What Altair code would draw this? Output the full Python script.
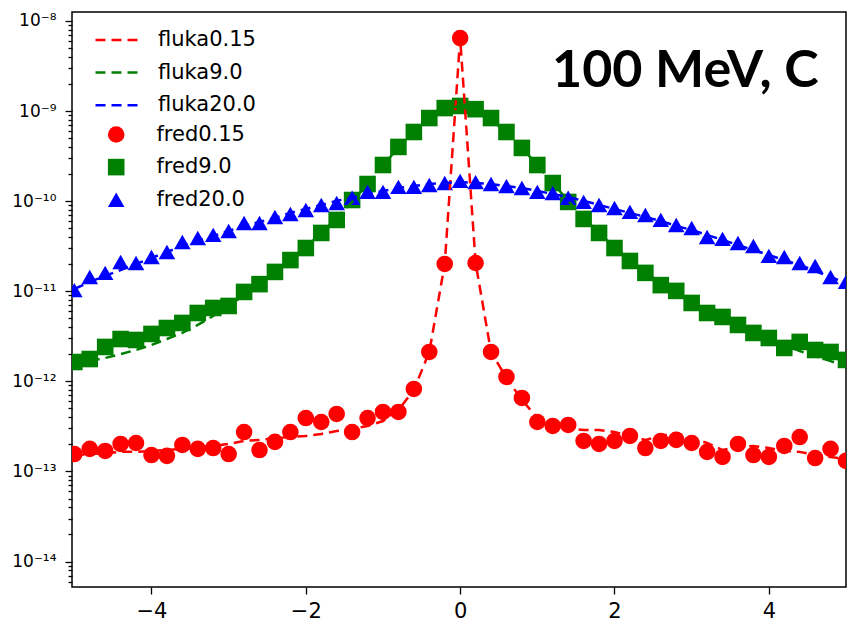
import altair as alt
import pandas as pd
import math

# ---------------- data ----------------
x_vals = [-5.0, -4.8, -4.6, -4.4, -4.2, -4.0, -3.8, -3.6, -3.4, -3.2,
          -3.0, -2.8, -2.6, -2.4, -2.2, -2.0, -1.8, -1.6, -1.4, -1.2,
          -1.0, -0.8, -0.6, -0.4, -0.2, 0.0, 0.2, 0.4, 0.6, 0.8,
          1.0, 1.2, 1.4, 1.6, 1.8, 2.0, 2.2, 2.4, 2.6, 2.8,
          3.0, 3.2, 3.4, 3.6, 3.8, 4.0, 4.2, 4.4, 4.6, 4.8, 5.0]

fluka_015 = [1.52e-13, 1.56e-13, 1.60e-13, 1.65e-13, 1.65e-13, 1.69e-13, 1.73e-13, 1.78e-13, 1.82e-13, 1.92e-13,
             2.02e-13, 2.18e-13, 2.24e-13, 2.35e-13, 2.41e-13, 2.48e-13, 2.61e-13, 2.81e-13, 2.96e-13, 3.20e-13,
             3.63e-13, 4.82e-13, 8.03e-13, 2.12e-12, 2.01e-11, 6.47e-9, 2.06e-11, 2.12e-12, 1.09e-12, 6.23e-13,
             3.92e-13, 3.37e-13, 3.04e-13, 2.88e-13, 2.88e-13, 2.74e-13, 2.48e-13, 2.24e-13, 2.48e-13, 2.67e-13,
             2.35e-13, 2.07e-13, 1.73e-13, 1.87e-13, 1.92e-13, 1.82e-13, 1.69e-13, 1.65e-13, 1.52e-13, 1.45e-13, 1.38e-13]

fluka_9 = [1.52e-12, 1.68e-12, 1.82e-12, 2.01e-12, 2.23e-12, 2.54e-12, 2.95e-12, 3.45e-12, 4.23e-12, 5.32e-12,
           6.87e-12, 9.09e-12, 1.20e-11, 1.64e-11, 2.22e-11, 3.10e-11, 4.44e-11, 6.52e-11, 9.81e-11, 1.55e-10,
           2.52e-10, 3.90e-10, 5.86e-10, 8.17e-10, 1.05e-9, 1.14e-9, 1.05e-9, 8.17e-10, 5.71e-10, 3.90e-10,
           2.52e-10, 1.59e-10, 1.01e-10, 6.52e-11, 4.44e-11, 3.10e-11, 2.22e-11, 1.64e-11, 1.24e-11, 9.58e-12,
           7.42e-12, 6.06e-12, 4.93e-12, 4.12e-12, 3.45e-12, 2.88e-12, 2.54e-12, 2.17e-12, 1.91e-12, 1.68e-12, 1.48e-12]

fluka_20 = [1.06e-11, 1.27e-11, 1.48e-11, 1.72e-11, 2.01e-11, 2.34e-11, 2.73e-11, 3.18e-11, 3.62e-11, 4.11e-11,
            4.67e-11, 5.31e-11, 5.88e-11, 6.52e-11, 7.41e-11, 8.20e-11, 9.07e-11, 1.01e-10, 1.09e-10, 1.20e-10,
            1.30e-10, 1.40e-10, 1.47e-10, 1.55e-10, 1.59e-10, 1.63e-10, 1.59e-10, 1.55e-10, 1.47e-10, 1.40e-10,
            1.30e-10, 1.20e-10, 1.11e-10, 1.01e-10, 9.07e-11, 8.20e-11, 7.41e-11, 6.68e-11, 6.03e-11, 5.31e-11,
            4.79e-11, 4.22e-11, 3.71e-11, 3.26e-11, 2.87e-11, 2.53e-11, 2.22e-11, 1.96e-11, 1.68e-11, 1.44e-11, 1.24e-11]

fred_015 = [1.56e-13, 1.78e-13, 1.69e-13, 2.02e-13, 2.07e-13, 1.52e-13, 1.49e-13, 1.97e-13, 1.78e-13, 1.82e-13,
            1.56e-13, 2.74e-13, 1.73e-13, 2.13e-13, 2.74e-13, 3.92e-13, 3.54e-13, 4.35e-13, 2.74e-13, 3.92e-13,
            4.58e-13, 4.58e-13, 8.24e-13, 2.12e-12, 2.01e-11, 6.47e-9, 2.06e-11, 2.12e-12, 1.12e-12, 6.55e-13,
            3.54e-13, 3.20e-13, 3.28e-13, 2.18e-13, 2.02e-13, 2.18e-13, 2.48e-13, 1.82e-13, 2.18e-13, 2.24e-13,
            2.07e-13, 1.65e-13, 1.45e-13, 2.02e-13, 1.52e-13, 1.45e-13, 1.92e-13, 2.41e-13, 1.41e-13, 1.78e-13, 1.31e-13]

fred_9 = [1.64e-12, 1.77e-12, 2.41e-12, 2.95e-12, 2.88e-12, 3.36e-12, 3.91e-12, 4.45e-12, 5.74e-12, 6.53e-12,
          6.87e-12, 9.83e-12, 1.20e-11, 1.64e-11, 2.22e-11, 3.02e-11, 4.44e-11, 6.19e-11, 1.03e-10, 1.55e-10,
          2.52e-10, 4.00e-10, 5.86e-10, 8.37e-10, 1.08e-9, 1.14e-9, 1.05e-9, 8.37e-10, 5.86e-10, 3.90e-10,
          2.52e-10, 1.59e-10, 9.81e-11, 6.35e-11, 4.44e-11, 3.02e-11, 2.17e-11, 1.60e-11, 1.17e-11, 1.01e-11,
          7.42e-12, 5.74e-12, 5.19e-12, 4.23e-12, 3.45e-12, 3.03e-12, 2.35e-12, 2.74e-12, 2.23e-12, 2.12e-12, 1.73e-12]

fred_20 = [1.03e-11, 1.44e-11, 1.60e-11, 2.11e-11, 2.06e-11, 2.40e-11, 2.73e-11, 3.52e-11, 3.90e-11, 4.22e-11,
           4.67e-11, 5.73e-11, 5.73e-11, 6.68e-11, 7.21e-11, 7.99e-11, 9.07e-11, 9.55e-11, 1.09e-10, 1.27e-10,
           1.27e-10, 1.44e-10, 1.44e-10, 1.51e-10, 1.59e-10, 1.68e-10, 1.63e-10, 1.55e-10, 1.47e-10, 1.40e-10,
           1.27e-10, 1.23e-10, 1.09e-10, 9.81e-11, 9.07e-11, 8.41e-11, 7.61e-11, 7.03e-11, 6.19e-11, 5.44e-11,
           5.04e-11, 4.00e-11, 3.81e-11, 3.43e-11, 3.18e-11, 2.47e-11, 2.40e-11, 2.06e-11, 1.91e-11, 1.44e-11, 1.27e-11]

line_names = ["fluka0.15", "fluka9.0", "fluka20.0"]
point_names = ["fred0.15", "fred9.0", "fred20.0"]
series_colors = ["#ff0000", "#008000", "#0000ff"]
point_shapes = ["circle", "square", "triangle-up"]
x_ticks = [-4, -2, 0, 2, 4]
y_major = [1e-14, 1e-13, 1e-12, 1e-11, 1e-10, 1e-9, 1e-8]
annotation = "100 MeV, C"

# ---------------- tables ----------------
lines_df = pd.concat([
    pd.DataFrame({"x": x_vals, "y": vals, "series": name, "order": i})
    for i, (name, vals) in enumerate(zip(line_names, [fluka_015, fluka_9, fluka_20]))
])
points_df = pd.concat([
    pd.DataFrame({"x": x_vals, "y": vals, "series": name, "order": i})
    for i, (name, vals) in enumerate(zip(point_names, [fred_015, fred_9, fred_20]))
])

y_lo, y_hi = 5.22e-15, 1.258e-8
y_minor = [m * 10.0 ** e for e in range(-15, -8) for m in range(2, 10)]
y_minor = [v for v in y_minor if y_lo <= v <= y_hi]
y_values = sorted(y_major + y_minor)

sup = str.maketrans("-0123456789", "⁻⁰¹²³⁴⁵⁶⁷⁸⁹")
is_major = "abs(log(datum.value)/LN10 - round(log(datum.value)/LN10)) < 0.01"
expo = "round(log(datum.value)/LN10)"
nested = "''"
for v in y_major:
    e = round(math.log10(v))
    nested = f"({expo} == {e} ? '10{str(e).translate(sup)}' : {nested})"
label_expr = f"{is_major} ? {nested} : ''"

x_scale = alt.Scale(domain=[-5.03, 5.0], nice=False, zero=False)
y_scale = alt.Scale(type="log", domain=[y_lo, y_hi], nice=False)

x_axis = alt.Axis(values=x_ticks, title=None, tickSize=7, labelFontSize=21,
                  labelPadding=6, grid=False, format="d")
y_axis = alt.Axis(values=y_values, title=None, grid=False, labelOverlap=False,
                  labelExpr=label_expr, labelFontSize=17, labelPadding=9,
                  tickSize={"condition": {"test": is_major, "value": 7}, "value": 4})

msize = 275
point_legend = alt.Legend(title=None, orient="none", legendX=33.7, legendY=112.0,
                          symbolSize=msize, labelFontSize=21, labelOffset=29.7,
                          rowPadding=10.6, padding=0, symbolStrokeWidth=0)

points = alt.Chart(points_df).mark_point(
    filled=True, size=msize, opacity=1, strokeWidth=0, clip=True
).encode(
    x=alt.X("x:Q", scale=x_scale, axis=x_axis),
    y=alt.Y("y:Q", scale=y_scale, axis=y_axis),
    color=alt.Color("series:N", scale=alt.Scale(domain=point_names, range=series_colors),
                    legend=point_legend),
    shape=alt.Shape("series:N", scale=alt.Scale(domain=point_names, range=point_shapes),
                    legend=point_legend),
    order=alt.Order("order:Q"),
)

lines = alt.Chart(lines_df).mark_line(
    strokeDash=[10, 6], strokeWidth=2.5, clip=True
).encode(
    x=alt.X("x:Q", scale=x_scale, axis=x_axis),
    y=alt.Y("y:Q", scale=y_scale, axis=y_axis),
    color=alt.Color("series:N", scale=alt.Scale(domain=line_names, range=series_colors),
                    legend=alt.Legend(title=None, orient="none", legendX=35.5, legendY=17.5,
                                      symbolType="M-3,0H3", symbolSize=225, symbolStrokeWidth=2.5,
                                      symbolDash=[10, 6], labelFontSize=21, labelOffset=29.5,
                                      rowPadding=10.6, padding=0)),
    detail="series:N",
    order=alt.Order("x:Q"),
)

label = alt.Chart(alt.Data(values=[{"t": annotation}])).mark_text(
    align="left", baseline="alphabetic", font="Lato", fontWeight="bold", fontSize=52, color="black"
).encode(text="t:N", x=alt.value(480), y=alt.value(75))

chart = alt.layer(points, lines, label).resolve_scale(
    color="independent", shape="independent"
).properties(
    width=774, height=575,
    autosize=alt.AutoSizeParams(type="none"),
    padding={"left": 72, "top": 12, "right": 8, "bottom": 38},
).configure_view(
    stroke="black", strokeWidth=1.5
).configure_axis(
    domain=False, tickColor="black", tickWidth=1.3, labelColor="black",
    labelFont="DejaVu Sans"
).configure_legend(
    labelFont="DejaVu Sans", labelColor="black"
)

chart.save("out.html", embed_options={"renderer": "svg", "actions": False})
